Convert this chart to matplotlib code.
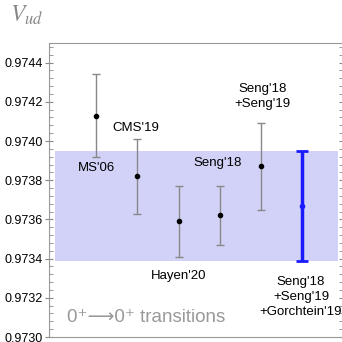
import numpy as np
import matplotlib.pyplot as plt

# Vud values from superallowed 0+ -> 0+ transitions
labels = ["MS'06", "CMS'19", "Hayen'20", "Seng'18", "Seng'18\n+Seng'19",
          "Seng'18\n+Seng'19\n+Gorchtein'19"]
xpos = [1, 2, 3, 4, 5, 6]
vud = [0.97413, 0.97382, 0.97359, 0.97362, 0.97387, 0.97367]
err = [0.00021, 0.00019, 0.00018, 0.00015, 0.00022, 0.00028]
band = (0.97339, 0.97395)

plt.rcParams['font.family'] = ['Liberation Sans', 'DejaVu Sans']

fig = plt.figure(figsize=(3.42, 3.42), dpi=100)
ax = fig.add_axes([0.1433, 0.0146, 0.8597, 0.8596])

ax.axhspan(band[0], band[1], xmin=0.02, xmax=0.983, color='#d2d2f8', lw=0, zorder=0)

# gray points
ax.errorbar(xpos[:5], vud[:5], yerr=err[:5], fmt='o', ms=3, color='black',
            ecolor='#888888', elinewidth=1, capsize=3, capthick=1, zorder=3)
# combined (blue)
ax.errorbar(xpos[5:], vud[5:], yerr=err[5:], fmt='o', ms=3, color='#1a1aff',
            ecolor='#1a1aff', elinewidth=2.5, capsize=4, capthick=2, zorder=3)

fs = 9.5
ax.text(1.0, 0.973861, labels[0], ha='center', va='center', fontsize=fs)
ax.text(1.95, 0.974065, labels[1], ha='center', va='center', fontsize=fs)
ax.text(3.0, 0.973312, labels[2], ha='center', va='center', fontsize=fs)
ax.text(3.95, 0.973887, labels[3], ha='center', va='center', fontsize=fs)
ax.text(5.05, 0.974229, labels[4], ha='center', va='center', fontsize=fs,
        linespacing=1.35)
ax.text(5.98, 0.973205, labels[5], ha='center', va='center', fontsize=fs,
        linespacing=1.35)

ax.text(0.29, 0.973097, '0\u207a\u27f60\u207a transitions', ha='left', va='center',
        fontsize=13.5, color='#999999')

fig.text(0.03, 0.955, r'$V_{ud}$', fontsize=17, color='#888888',
         math_fontfamily='stix', ha='left', va='center')

ax.set_xlim(-0.15, 7.0)
ax.set_ylim(0.9730, 0.9745)
ax.set_yticks(np.arange(0.9730, 0.97441, 0.0002))
ax.set_yticks(np.arange(0.9730, 0.9745, 0.00004), minor=True)
ax.yaxis.set_major_formatter(plt.FormatStrFormatter('%.4f'))
ax.set_xticks([])
ax.tick_params(axis='y', which='major', direction='inout', length=6, color='#888888',
               labelsize=9, left=True, right=True, pad=1.5)
ax.tick_params(axis='y', which='minor', direction='in', length=3, color='#888888',
               left=True, right=True)
for s in ['left', 'top', 'bottom']:
    ax.spines[s].set_color('#999999')
ax.spines['right'].set_visible(False)

fig.savefig('out.png', dpi=100)
